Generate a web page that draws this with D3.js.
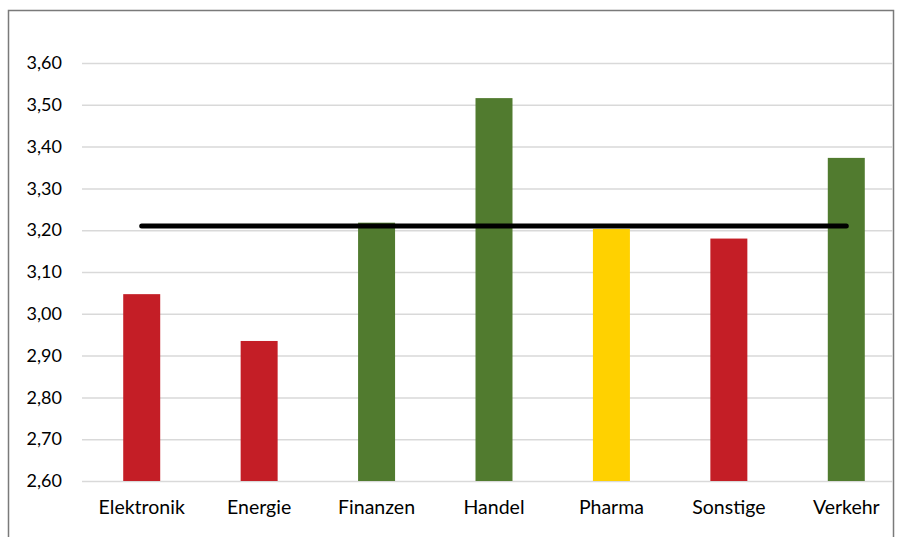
<!DOCTYPE html>
<html>
<head>
<meta charset="utf-8">
<script src="https://cdn.jsdelivr.net/npm/d3@7"></script>
<style>
  html, body { margin: 0; padding: 0; background: #fff; }
  svg { display: block; }
  text { font-family: Lato, "Open Sans", sans-serif; fill: #000; }
</style>
</head>
<body>
<svg id="chart" width="897" height="537"></svg>
<script>
// Sector scores
const categories = ["Elektronik", "Energie", "Finanzen", "Handel", "Pharma", "Sonstige", "Verkehr"];
const scores = [3.047, 2.935, 3.218, 3.516, 3.203, 3.18, 3.373];
const barColors = ["#C41E26", "#C41E26", "#517B2F", "#517B2F", "#FFD100", "#C41E26", "#517B2F"];
// Overall average shown as a reference line
const averageScore = [3.21, 3.21, 3.21, 3.21, 3.21, 3.21, 3.21];
const yTicks = [2.6, 2.7, 2.8, 2.9, 3.0, 3.1, 3.2, 3.3, 3.4, 3.5, 3.6];

const svg = d3.select("#chart");

// Chart frame
svg.append("rect")
  .attr("x", 8.5).attr("y", 10.5)
  .attr("width", 885).attr("height", 540)
  .attr("fill", "#fff")
  .attr("stroke", "#7a7a7a")
  .attr("stroke-width", 1.5);

const y = d3.scaleLinear().domain([2.6, 3.6]).range([481, 63]);
const x = d3.scaleBand().domain(categories).range([83, 905]).paddingInner(0.685).paddingOuter(0.3425);

const fmt = v => d3.format(".2f")(v).replace(".", ",");

// Gridlines and value labels
const yAxis = d3.axisLeft(y).tickValues(yTicks).tickSize(-(893 - 82)).tickFormat(fmt);
const gy = svg.append("g").attr("transform", "translate(82,0)").call(yAxis);
gy.select(".domain").remove();
gy.selectAll(".tick line").attr("stroke", "#d9d9d9").attr("stroke-width", 1.5);
gy.selectAll(".tick text").attr("font-size", 18).attr("fill", "#000").attr("x", -20);

// Bars
svg.append("g").selectAll("rect")
  .data(categories)
  .join("rect")
  .attr("x", d => x(d))
  .attr("width", x.bandwidth())
  .attr("y", (d, i) => y(scores[i]))
  .attr("height", (d, i) => y(2.6) - y(scores[i]))
  .attr("fill", (d, i) => barColors[i]);

// Category axis
const xAxis = d3.axisBottom(x).tickSize(0).tickPadding(20);
const gx = svg.append("g").attr("transform", "translate(0,481)").call(xAxis);
gx.select(".domain").remove();
gx.selectAll(".tick text").attr("font-size", 19.5).attr("fill", "#000").attr("y", 19);

// Average line
const line = d3.line()
  .x((d, i) => x(categories[i]) + x.bandwidth() / 2)
  .y(d => y(d));
svg.append("path")
  .datum(averageScore)
  .attr("d", line)
  .attr("fill", "none")
  .attr("stroke", "#000")
  .attr("stroke-width", 5)
  .attr("stroke-linecap", "round");
</script>
</body>
</html>
